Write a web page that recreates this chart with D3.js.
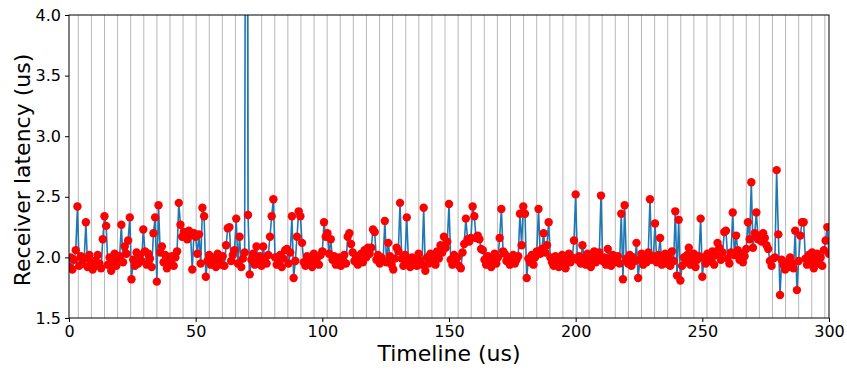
<!DOCTYPE html>
<html>
<head>
<meta charset="utf-8">
<script src="https://cdn.jsdelivr.net/npm/d3@7/dist/d3.min.js"></script>
<style>
  html, body { margin: 0; padding: 0; background: #fff; }
  svg { display: block; font-family: "DejaVu Sans", sans-serif; }
</style>
</head>
<body>
<svg id="chart" width="847" height="371"></svg>
<script>
// ---- data ----
const xTicks = [0, 50, 100, 150, 200, 250, 300];
const yTicks = [1.5, 2.0, 2.5, 3.0, 3.5, 4.0];
const xDomain = [0, 300];
const yDomain = [1.5, 4.0];
const sampleStepUs = 2 / 3;       // spacing of samples on the timeline
const gridStartUs = 3.67;         // first vertical grid line
const gridStepUs = 5.17;          // spacing of vertical grid lines

// receiver latency samples (us), one every sampleStepUs
const latency = [
  1.92, 2.00, 1.90, 1.98, 2.06, 2.42, 1.93, 2.01, 1.95, 1.99, 2.29, 1.92, 2.02, 1.96, 1.90,
  1.97, 1.93, 2.02, 1.95, 1.91, 2.15, 2.34, 2.26, 1.94, 2.00, 1.89, 1.97, 2.03, 1.93, 1.99,
  2.01, 2.27, 1.96, 2.09, 2.03, 2.14, 2.33, 1.82, 1.98, 1.93, 2.04, 1.95, 2.02, 1.97, 2.23,
  2.05, 1.94, 2.03, 1.99, 1.92, 2.20, 2.33, 1.80, 2.43, 2.04, 2.09, 1.96, 2.02, 1.91, 1.98,
  1.95, 2.01, 1.93, 2.00, 2.05, 2.45, 2.27, 2.17, 2.21, 2.19, 2.15, 2.22, 2.18, 1.90, 2.20,
  2.17, 2.03, 2.19, 1.95, 2.41, 2.34, 1.84, 1.97, 2.02, 1.94, 2.00, 1.96, 1.92, 2.03, 1.98,
  1.94, 2.01, 1.93, 2.10, 2.24, 2.25, 1.97, 2.02, 2.06, 2.32, 1.95, 2.17, 1.92, 1.99, 2.04,
  9.00, 2.35, 1.86, 1.98, 2.03, 1.94, 2.09, 1.97, 2.01, 1.93, 2.09, 1.99, 1.95, 2.02, 2.17,
  2.34, 2.48, 2.00, 1.94, 1.97, 2.02, 1.92, 1.99, 2.06, 2.07, 1.95, 2.04, 2.34, 1.83, 1.97,
  2.17, 2.38, 2.34, 2.12, 1.96, 1.93, 2.01, 1.95, 1.99, 1.92, 2.03, 1.97, 2.00, 1.94, 2.02,
  2.05, 2.29, 2.17, 2.20, 2.03, 2.15, 1.98, 2.01, 1.94, 1.97, 2.00, 1.93, 1.96, 2.02, 1.95,
  2.17, 2.20, 2.11, 2.04, 1.97, 2.01, 1.94, 1.99, 2.03, 1.96, 2.06, 2.00, 2.08, 2.03, 2.08,
  2.23, 2.21, 1.98, 2.02, 1.95, 2.00, 1.97, 2.30, 1.96, 2.12, 2.01, 1.94, 1.90, 1.99, 2.08,
  2.05, 2.45, 1.99, 1.93, 2.02, 2.33, 1.96, 1.92, 2.00, 1.95, 1.98, 1.93, 2.03, 1.97, 1.94,
  2.41, 1.89, 2.00, 1.95, 2.03, 1.97, 2.01, 1.94, 2.05, 1.99, 2.10, 2.04, 2.17, 2.08, 2.13,
  2.44, 1.98, 1.94, 2.02, 1.96, 2.00, 1.93, 1.91, 2.04, 2.11, 2.32, 2.15, 2.13, 2.16, 2.42,
  2.34, 2.16, 2.18, 2.15, 2.07, 2.06, 1.98, 1.94, 2.01, 1.96, 1.92, 1.99, 2.03, 1.95, 2.00,
  2.16, 2.40, 2.05, 2.03, 1.97, 2.00, 1.94, 1.99, 2.02, 1.95, 1.98, 2.01, 2.36, 2.10, 2.42,
  2.36, 1.83, 1.99, 1.96, 2.02, 1.94, 2.00, 2.05, 2.40, 2.03, 2.07, 2.20, 2.04, 2.10, 2.29,
  2.00, 1.96, 1.93, 2.01, 1.97, 1.92, 1.99, 2.02, 1.95, 1.91, 1.98, 2.03, 1.96, 2.00, 2.14,
  2.52, 1.98, 2.01, 1.95, 2.10, 2.00, 1.94, 2.03, 1.97, 1.92, 2.01, 2.05, 1.96, 1.99, 2.04,
  2.51, 1.97, 2.00, 1.94, 2.07, 1.99, 1.93, 2.02, 1.96, 1.98, 2.01, 1.95, 2.36, 1.82, 2.43,
  1.99, 1.95, 2.02, 1.93, 2.00, 1.97, 2.12, 1.83, 1.98, 2.03, 1.94, 2.00, 1.96, 2.04, 2.48,
  1.98, 2.01, 2.28, 1.96, 2.02, 2.16, 1.94, 1.99, 2.03, 1.95, 2.00, 1.93, 2.05, 1.97, 2.38,
  1.85, 2.31, 1.81, 1.93, 2.00, 1.96, 2.02, 2.08, 1.94, 1.99, 2.03, 1.92, 1.98, 2.01, 2.32,
  1.84, 2.00, 1.95, 2.03, 1.97, 1.99, 2.05, 1.94, 2.02, 2.12, 2.08, 1.98, 2.04, 2.21, 2.22,
  1.99, 1.95, 2.04, 2.37, 2.02, 2.18, 2.06, 1.98, 2.03, 1.96, 2.01, 2.07, 2.29, 2.15, 2.62,
  2.08, 2.20, 2.37, 2.15, 2.18, 2.13, 2.20, 2.16, 2.10, 2.07, 1.97, 1.93, 1.99, 2.00, 2.72,
  2.19, 1.69, 1.98, 1.94, 1.90, 1.96, 1.92, 2.00, 1.95, 1.91, 2.22, 1.73, 1.97, 2.18, 2.29,
  2.29, 1.99, 1.94, 2.02, 1.96, 2.04, 1.91, 1.98, 2.03, 1.95, 2.00, 1.93, 2.06, 2.14, 2.25, 2.03
];

// ---- layout ----
const W = 847, H = 371;
const m = { left: 69, right: 18, top: 15, bottom: 53 };
const pw = W - m.left - m.right, ph = H - m.top - m.bottom;

const svg = d3.select("#chart");
const g = svg.append("g").attr("transform", `translate(${m.left},${m.top})`);

const x = d3.scaleLinear().domain(xDomain).range([0, pw]);
const y = d3.scaleLinear().domain(yDomain).range([ph, 0]);

const points = latency.map((v, i) => ({ t: i * sampleStepUs, v }));

svg.append("defs").append("clipPath").attr("id", "plotclip")
  .append("rect").attr("x", 0).attr("y", 0).attr("width", pw).attr("height", ph);

// vertical grid lines
const gridPos = d3.range(gridStartUs, xDomain[1], gridStepUs);
g.append("g").selectAll("line").data(gridPos).join("line")
  .attr("x1", d => x(d)).attr("x2", d => x(d))
  .attr("y1", 0).attr("y2", ph)
  .attr("stroke", "#b0b0b0").attr("stroke-width", 0.9);

// data
const plot = g.append("g").attr("clip-path", "url(#plotclip)");
plot.append("path").datum(points)
  .attr("fill", "none").attr("stroke", "#1f77b4").attr("stroke-width", 1.6)
  .attr("stroke-linejoin", "round")
  .attr("d", d3.line().x(d => x(d.t)).y(d => y(d.v)));
plot.append("g").selectAll("circle").data(points).join("circle")
  .attr("cx", d => x(d.t)).attr("cy", d => y(d.v)).attr("r", 4.2)
  .attr("fill", "#ff0000");

// axes
const xAxis = g.append("g").attr("transform", `translate(0,${ph})`)
  .call(d3.axisBottom(x).tickValues(xTicks).tickFormat(d3.format("d")).tickSizeOuter(0).tickSize(4).tickPadding(4));
const yAxis = g.append("g")
  .call(d3.axisLeft(y).tickValues(yTicks).tickFormat(d3.format(".1f")).tickSizeOuter(0).tickSize(4).tickPadding(4));
[xAxis, yAxis].forEach(a => {
  a.select(".domain").remove();
  a.selectAll("text").attr("font-size", 16).attr("fill", "#000").attr("font-family", "DejaVu Sans, sans-serif");
  a.selectAll("line").attr("stroke", "#000").attr("stroke-width", 1);
});

// frame
g.append("rect").attr("x", 0).attr("y", 0).attr("width", pw).attr("height", ph)
  .attr("fill", "none").attr("stroke", "#000").attr("stroke-width", 1);

// labels
svg.append("text").attr("x", m.left + pw / 2).attr("y", 361)
  .attr("text-anchor", "middle").attr("font-size", 22).attr("fill", "#000")
  .text("Timeline (us)");
svg.append("text")
  .attr("transform", `translate(30,170) rotate(-90)`)
  .attr("text-anchor", "middle").attr("font-size", 22).attr("fill", "#000")
  .text("Receiver latency (us)");
</script>
</body>
</html>
